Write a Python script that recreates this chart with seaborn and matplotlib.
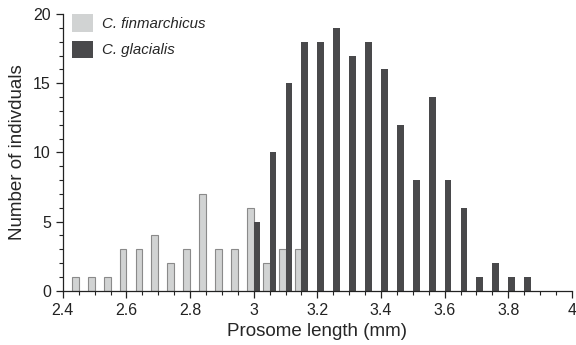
import pandas as pd
import seaborn as sns
import matplotlib.pyplot as plt
from matplotlib.ticker import MultipleLocator, FixedLocator

# counts per 0.05 mm bin
fin_length = [2.45, 2.50, 2.55, 2.60, 2.65, 2.70, 2.75, 2.80, 2.85, 2.90,
              2.95, 3.00, 3.05, 3.10, 3.15]
fin_count = [1, 1, 1, 3, 3, 4, 2, 3, 7, 3, 3, 6, 2, 3, 3]

gla_length = [3.00, 3.05, 3.10, 3.15, 3.20, 3.25, 3.30, 3.35, 3.40, 3.45,
              3.50, 3.55, 3.60, 3.65, 3.70, 3.75, 3.80, 3.85]
gla_count = [5, 10, 15, 18, 18, 19, 17, 18, 16, 12, 8, 14, 8, 6, 1, 2, 1, 1]

species = ['C. finmarchicus', 'C. glacialis']
x_ticks = [2.4, 2.6, 2.8, 3.0, 3.2, 3.4, 3.6, 3.8, 4.0]
x_labels = ['2.4', '2.6', '2.8', '3', '3.2', '3.4', '3.6', '3.8', '4']

df = pd.concat([
    pd.DataFrame({'length': fin_length, 'count': fin_count, 'species': species[0]}),
    pd.DataFrame({'length': gla_length, 'count': gla_count, 'species': species[1]}),
])
df['length'] = df['length'].round(2)

sns.set_style('ticks')
plt.rcParams['font.family'] = ['Liberation Sans', 'DejaVu Sans']

fig, ax = plt.subplots(figsize=(5.76, 3.45), dpi=100)
fig.subplots_adjust(left=0.109, right=0.993, bottom=0.157, top=0.959)

sns.barplot(data=df, x='length', y='count', hue='species', hue_order=species,
            native_scale=True, dodge=True, width=0.85, errorbar=None,
            palette={species[0]: '#d1d3d3', species[1]: '#48484c'}, ax=ax)

for bar in ax.patches:
    if bar.get_facecolor()[0] > 0.5:
        bar.set_edgecolor('#8a8a8a')
        bar.set_linewidth(0.8)
    else:
        bar.set_edgecolor('none')

ax.set_xlim(2.4, 4.0)
ax.set_ylim(0, 20)
ax.xaxis.set_major_locator(FixedLocator(x_ticks))
ax.set_xticks(x_ticks, x_labels)
ax.xaxis.set_minor_locator(MultipleLocator(0.05))
ax.yaxis.set_major_locator(MultipleLocator(5))
ax.yaxis.set_minor_locator(MultipleLocator(1))
ax.tick_params(which='major', length=5, width=0.9, labelsize=11.5, colors='#222222')
ax.tick_params(which='minor', length=3, width=0.8, colors='#222222')
for s in ['top', 'right']:
    ax.spines[s].set_visible(False)
for s in ['left', 'bottom']:
    ax.spines[s].set_linewidth(0.9)
    ax.spines[s].set_color('#222222')

ax.set_xlabel('Prosome length (mm)', fontsize=13.5, labelpad=4)
ax.set_ylabel('Number of indivduals', fontsize=13.5, labelpad=5)

leg = ax.legend(loc='upper left', frameon=False, handlelength=1.45, handleheight=1.45,
                fontsize=10.8, labelspacing=0.6, handletextpad=0.55,
                bbox_to_anchor=(-0.006, 1.045), borderaxespad=0.4)
for t in leg.get_texts():
    t.set_fontstyle('italic')
for h in leg.legend_handles:
    h.set_edgecolor('none')

fig.savefig('out.png', dpi=100)
